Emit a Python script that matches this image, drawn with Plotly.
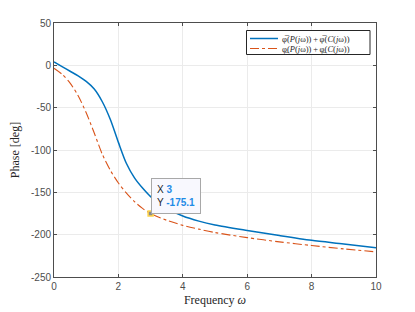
import plotly.graph_objects as go

freq = [0, 0.25, 0.5, 0.75, 1.0, 1.25, 1.5, 1.75, 2.0, 2.25, 2.5, 2.75, 3.0, 3.5, 4.0, 4.5, 5.0, 6.0, 7.0, 8.0, 9.0, 10.0]
phase_upper = [4, -1.5, -7, -12.5, -19, -28, -43, -64, -91, -116, -133, -145, -155, -169, -178, -184, -188.5, -195, -201, -206.6, -211, -215.6]
phase_lower = [-3.5, -10.5, -21, -36, -56, -80, -105, -124, -139, -151, -161, -169, -175.1, -183, -189, -193.5, -197.5, -203.5, -208.5, -212.8, -216.8, -220.3]
label_upper = "φ̅(<i>P</i>(<i>j</i>ω))\u202f+\u202fφ̅(<i>C</i>(<i>j</i>ω))"
label_lower = "φ̲(<i>P</i>(<i>j</i>ω))\u202f+\u202fφ̲(<i>C</i>(<i>j</i>ω))"
tip_x = 3
tip_y = -175.1
xticks = [0, 2, 4, 6, 8, 10]
yticks = [50, 0, -50, -100, -150, -200, -250]

# page body has an 8px margin, so the figure is drawn 8px lower/right
OFF = 8
W, H = 407, 304
ML, MR, MT, MB = 46, 39, 15, 35
PW, PH = W - ML - MR, H - MT - MB


def px_x(p):
    # p: pixel position in the screenshot
    return (p - OFF - ML) / PW


def px_y(p):
    return (H - MB - (p - OFF)) / PH


BLUE = "#0072BD"
ORANGE = "#D95319"

fig = go.Figure()
fig.add_trace(go.Scatter(
    x=freq, y=phase_upper, mode="lines", showlegend=False, name=label_upper,
    line=dict(color=BLUE, width=1.5, shape="spline", smoothing=0.8)))
fig.add_trace(go.Scatter(
    x=freq, y=phase_lower, mode="lines", showlegend=False, name=label_lower,
    line=dict(color=ORANGE, width=1.1, dash="dashdot", shape="spline", smoothing=0.8)))
fig.add_trace(go.Scatter(
    x=[tip_x], y=[tip_y], mode="markers", showlegend=False,
    marker=dict(symbol="square", size=5, color="#8a8a8a", line=dict(color="#ffd54a", width=1.5))))

fig.add_annotation(
    x=tip_x, y=tip_y, xref="x", yref="y", showarrow=False,
    xanchor="left", yanchor="bottom", xshift=0, yshift=0, align="left",
    text="X <b><span style='color:#1f8be6'>3</span></b><br>Y <b><span style='color:#1f8be6'>-175.1</span></b>",
    font=dict(family="Liberation Sans, Arial", size=10, color="#262626"),
    bgcolor="#f8f8fe", bordercolor="#a8a8a8", borderwidth=1, borderpad=5)

# legend drawn manually (compact MATLAB style)
fig.add_shape(type="rect", xref="paper", yref="paper",
              x0=px_x(246.5), x1=px_x(370), y0=px_y(54.5), y1=px_y(30.5),
              line=dict(color="#262626", width=1), fillcolor="white", layer="above")
for row_y, col, dash, lab in [(38.5, BLUE, "solid", label_upper), (48.5, ORANGE, "dashdot", label_lower)]:
    fig.add_shape(type="line", xref="paper", yref="paper",
                  x0=px_x(250), x1=px_x(278), y0=px_y(row_y), y1=px_y(row_y),
                  line=dict(color=col, width=1.5 if dash == "solid" else 1.1, dash=dash), layer="above")
    fig.add_annotation(xref="paper", yref="paper", x=px_x(280), y=px_y(row_y),
                       xanchor="left", yanchor="middle", showarrow=False, text=lab,
                       font=dict(family="Liberation Serif, serif", size=8.5, color="#262626"))

axis_common = dict(
    showgrid=True, gridcolor="#ebebeb", gridwidth=1,
    showline=True, linecolor="#4d4d4d", linewidth=1, mirror="ticks",
    ticks="inside", ticklen=3, tickcolor="#4d4d4d",
    tickfont=dict(family="Liberation Sans, Arial", size=10, color="#4d4d4d"),
    zeroline=False, automargin=False)

fig.update_xaxes(range=[0, 10], tickvals=xticks, ticktext=[str(v) for v in xticks],
                 title=dict(text="Frequency <i>ω</i>", font=dict(family="Liberation Serif, serif", size=12, color="#262626"), standoff=4),
                 **axis_common)
fig.update_yaxes(range=[-250, 50], tickvals=yticks, ticktext=[str(v) for v in yticks],
                 title=dict(text="Phase [deg]", font=dict(family="Liberation Serif, serif", size=12, color="#262626"), standoff=14),
                 **axis_common)

fig.update_layout(
    width=W, height=H,
    margin=dict(l=ML, r=MR, t=MT, b=MB, autoexpand=False),
    paper_bgcolor="white", plot_bgcolor="white",
    showlegend=False,
)

fig.write_html("out.html")
